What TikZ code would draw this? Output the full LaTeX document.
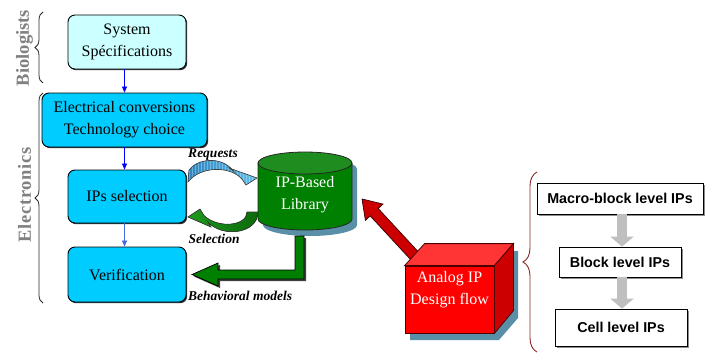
\documentclass[tikz,border=0pt]{standalone}
\usepackage{fontspec}
\setmainfont{Liberation Serif}
\setsansfont{Liberation Sans}
\usetikzlibrary{arrows.meta,decorations.pathreplacing,shadows,calc}
\definecolor{lcyan}{HTML}{CCFFFF}
\definecolor{mcyan}{HTML}{00CCFF}
\definecolor{libgreen}{HTML}{008000}
\definecolor{libtop}{HTML}{1E8C1E}
\definecolor{shadowblue}{HTML}{5A8FA8}
\definecolor{bracered}{HTML}{8B2525}
\definecolor{gtext}{HTML}{808080}
\definecolor{reqdark}{HTML}{2E86C0}
\definecolor{reqlight}{HTML}{62C0EA}
\definecolor{seldark}{HTML}{0A6A0A}
\definecolor{sellight}{HTML}{1E9A1E}
\definecolor{cubered}{HTML}{FF0000}
\definecolor{cubetop}{HTML}{FF3434}
\definecolor{cubeside}{HTML}{CC0000}
\definecolor{arrowred}{HTML}{CC0000}
\definecolor{grayarr}{HTML}{BFBFBF}
\def\reqpath{(188,182) -- (189,170) .. controls (197,159) and (221,155) .. (234,171.5)
  -- (229,168) -- (257,178) -- (246,185) -- (243,180.5)
  .. controls (233,166) and (201,165) .. (188,182) -- cycle}
\begin{document}
\begin{tikzpicture}[x=1pt,y=-1pt,
  box/.style={draw=black, line width=0.9pt, rounded corners=7pt, align=center,
    inner sep=0pt, font=\fontsize{16}{22}\selectfont,
    drop shadow={shadow xshift=1.2pt,shadow yshift=-1.2pt,fill=black!80,opacity=1}},
  ipbox/.style={draw=black, line width=0.8pt, fill=white, inner sep=0pt,
    font=\sffamily\bfseries\fontsize{14.3}{17}\selectfont,
    drop shadow={shadow xshift=1.5pt,shadow yshift=-1.5pt,fill=black!45,opacity=1}},
  bluearrow/.style={draw=blue, line width=0.8pt, -{Triangle[length=6pt,width=5pt]}},
  grayarrow/.style={draw=grayarr, line width=10pt, -{Triangle[length=10pt,width=23pt]}},
  leftbrace/.style={draw=black!85, line width=0.8pt, decorate, decoration={brace, amplitude=8pt}},
  rightbrace/.style={draw=bracered, line width=0.9pt, decorate, decoration={brace, amplitude=14pt}},
  lbl/.style={font=\bfseries\itshape\fontsize{13.5}{16}\selectfont, inner sep=0pt},
  grouplbl/.style={rotate=90, text=gtext, inner sep=0pt, font=\bfseries\fontsize{18.5}{20}\selectfont},
  whitetext/.style={text=white, align=center, inner sep=0pt, font=\fontsize{16}{22}\selectfont}
]
\useasboundingbox (0,0) rectangle (718,354);
\fill[white] (0,0) rectangle (718,354);

% group labels and braces
\node[grouplbl] (bio) at (24.5,48) {Biologists};
\node[grouplbl] (elx) at (24.5,195) {\addfontfeature{LetterSpace=4}Electronics};
\draw[leftbrace] (43,83) -- (43,12);
\draw[leftbrace] (43,303) -- (43,93);

% left flow boxes
\node[box, fill=lcyan, minimum width=118pt, minimum height=54pt] (spec) at (127,42) {System\\Spécifications};
\node[box, fill=mcyan, minimum width=165pt, minimum height=54pt] (elec) at (124.5,120) {Electrical conversions\\Technology choice};
\node[box, fill=mcyan, minimum width=118pt, minimum height=53pt] (ipsel) at (127,196.5) {IPs selection};
\node[box, fill=mcyan, minimum width=118pt, minimum height=55pt] (verif) at (127,274.5) {Verification};

\draw[bluearrow] (elec.north |- spec.south) -- (elec.north);
\draw[bluearrow] (elec.south) -- (elec.south |- ipsel.north);
\draw[bluearrow, draw={rgb,255:red,65;green,105;blue,225}] (elec.south |- ipsel.south) -- (elec.south |- verif.north);

% library cylinder
\fill[shadowblue] (263,169) -- (263,225) .. controls (263,231.08) and (284.04,236) .. (310,236)
  .. controls (335.96,236) and (357,231.08) .. (357,225) -- (357,169)
  .. controls (357,162.92) and (335.96,158) .. (310,158) .. controls (284.04,158) and (263,162.92) .. (263,169) -- cycle;
\filldraw[fill=libgreen, draw=black!85, line width=0.8pt] (258,163) -- (258,219)
  .. controls (258,225.08) and (279.04,230) .. (305,230) .. controls (330.96,230) and (352,225.08) .. (352,219)
  -- (352,163) -- cycle;
\filldraw[fill=libtop, draw=black!85, line width=0.8pt] (305,163) ellipse [x radius=47pt, y radius=11pt];
\node[whitetext] (lib) at (305,194.5) {IP-Based\\Library};

% Requests arrow
\fill[left color=reqdark, right color=reqlight] \reqpath;
\begin{scope}
  \clip \reqpath;
  \draw[white, opacity=0.3, line width=0.35pt, step=3] (185,150) grid (260,190);
\end{scope}
\draw[draw=black!75, line width=0.6pt] \reqpath;
\node[lbl] (req) at (213,155) {Requests};

% Selection arrow
\filldraw[left color=sellight, right color=seldark, draw=black!80, line width=0.6pt]
  (258,212) .. controls (258,234) and (222,238) .. (208,222)
  -- (211,227) -- (188,217) -- (200,209) -- (204,215.5)
  .. controls (218,229) and (247,226) .. (247,212) -- cycle;
\node[lbl] (sel) at (214,239) {Selection};

% Behavioral models arrow
\fill[black!75] (297,238) -- (297,272) -- (220,272) -- (220,265) -- (194,276.5) -- (220,288) -- (220,281) -- (306,281) -- (306,238) -- cycle;
\filldraw[fill=libgreen, draw=black, line width=0.7pt]
  (295,236) -- (295,270) -- (218,270) -- (218,263) -- (192,274.5) -- (218,286) -- (218,279) -- (304,279) -- (304,236) -- cycle;
\node[lbl, anchor=west] (beh) at (188,295.5) {Behavioral models};

% red arrow to library
\filldraw[fill=arrowred, draw=black!80!red, line width=0.7pt]
  (421.4,255.2) -- (378.2,208.5) -- (383.0,204.05) -- (362,199) -- (365.4,220.35) -- (370.2,215.9) -- (413.4,262.6) -- cycle;

% cube
\fill[shadowblue] (410,273) -- (430,251) -- (518,251) -- (518,318) -- (499,340) -- (410,340) -- cycle;
\node[draw=black!70!red, line width=0.8pt, fill=cubered, minimum width=89pt, minimum height=67pt, inner sep=0pt] (cube) at (449.5,299.5) {};
\filldraw[fill=cubetop, draw=black!70!red, line width=0.8pt] (cube.north west) -- ++(20,-22) -- ++(89,0) -- (cube.north east) -- cycle;
\filldraw[fill=cubeside, draw=black!70!red, line width=0.8pt] (cube.north east) -- ++(19,-22) -- ++(0,67) -- (cube.south east) -- cycle;
\node[whitetext] (cubetext) at (449.5,289.5) {Analog IP\\Design flow};

% right side hierarchy
\draw[rightbrace] (537,352) -- (537,172);
\node[ipbox, minimum width=166pt, minimum height=31pt] (macro) at (620,198.5) {Macro-block level IPs};
\node[ipbox, minimum width=122pt, minimum height=30pt] (block) at (620,262) {Block level IPs};
\node[ipbox, minimum width=132pt, minimum height=37pt] (cell) at (621,327.5) {Cell level IPs};
\coordinate (gx) at (622,0);
\draw[grayarrow] (macro.south -| gx) -- (block.north -| gx);
\draw[grayarrow] (block.south -| gx) -- (cell.north -| gx);
\end{tikzpicture}
\end{document}
